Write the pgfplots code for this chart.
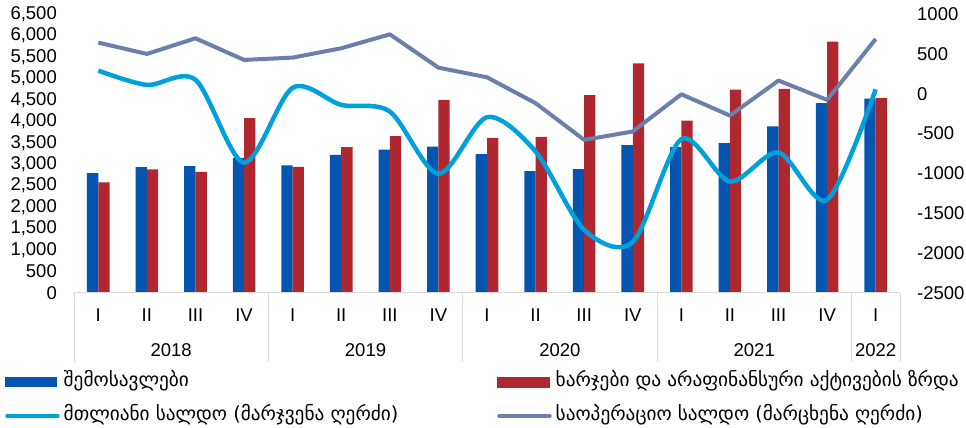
\documentclass[border=0pt]{standalone}
\usepackage{fontspec}
\setmainfont{Liberation Sans}
\newfontfamily\geo{DejaVu Sans}
\usepackage{pgfplots}
\pgfplotsset{compat=1.18}
\definecolor{barblue}{RGB}{4,85,175}
\definecolor{barred}{RGB}{175,39,47}
\definecolor{lineblue}{RGB}{0,160,220}
\definecolor{linegray}{RGB}{107,127,170}
\definecolor{sepgray}{RGB}{217,217,217}
\begin{document}
\begin{tikzpicture}
\useasboundingbox (0,0) rectangle (966pt,428pt);
\begin{axis}[
  at={(74pt,135pt)}, anchor=south west,
  scale only axis, width=826pt, height=279pt,
  xmin=-0.5, xmax=16.5, ymin=0, ymax=6500,
  clip=false,
  xtick={0,...,16},
  xticklabels={I,II,III,IV,I,II,III,IV,I,II,III,IV,I,II,III,IV,I},
  ytick={0,500,...,6500},
  axis line style={draw=none}, tick style={draw=none},
  ticklabel style={font=\fontsize{18.5}{22}\selectfont},
  x tick label style={anchor=center, inner sep=0pt, yshift=-22pt},
  y tick label style={anchor=east, inner sep=0pt, xshift=-17pt},
  /pgf/number format/.cd, 1000 sep={,}, assume math mode=true, /pgfplots/.cd,
  legend cell align=left,
  legend style={at={(axis description cs:-0.0835,-0.3800)}, anchor=west,
    draw=none, fill=none, inner sep=0pt, row sep=15pt, column sep=4pt,
    font=\geo\fontsize{19.3}{23}\selectfont,
    nodes={inner sep=0pt, text height=14pt, text depth=5pt}},
]
\addplot[ybar, bar width=11.3pt, bar shift=-5.65pt, fill=barblue, draw=none,
  legend image code/.code={\fill[barblue] (0pt,-5pt) rectangle (52pt,5pt);}]
  table[row sep=\\] {x y\\
0 2793\\ 1 2932\\ 2 2955\\ 3 3150\\ 4 2971\\ 5 3219\\ 6 3343\\ 7 3413\\
8 3235\\ 9 2839\\ 10 2886\\ 11 3444\\ 12 3401\\ 13 3491\\ 14 3879\\ 15 4421\\ 16 4530\\};
\addlegendentry{შემოსავლები}
\addplot[ybar, bar width=11.3pt, bar shift=5.65pt, fill=barred, draw=none, forget plot]
  table[row sep=\\] {x y\\
0 2575\\ 1 2878\\ 2 2824\\ 3 4073\\ 4 2940\\ 5 3398\\ 6 3654\\ 7 4499\\
8 3615\\ 9 3638\\ 10 4608\\ 11 5352\\ 12 4018\\ 13 4740\\ 14 4755\\ 15 5857\\ 16 4546\\};
\addlegendimage{legend image code/.code={\draw[lineblue, line width=4.5pt, line cap=round] (2pt,0pt) -- (52pt,0pt);}}
\addlegendentry{მთლიანი სალდო (მარჯვენა ღერძი)}
\draw[sepgray, line width=1pt] (axis cs:-0.5,0) -- (axis cs:16.5,0);
\draw[sepgray, line width=1pt] (axis cs:-0.5,0) -- ++(0pt,-69pt);
\draw[sepgray, line width=1pt] (axis cs:3.5,0) -- ++(0pt,-69pt);
\draw[sepgray, line width=1pt] (axis cs:7.5,0) -- ++(0pt,-69pt);
\draw[sepgray, line width=1pt] (axis cs:11.5,0) -- ++(0pt,-69pt);
\draw[sepgray, line width=1pt] (axis cs:15.5,0) -- ++(0pt,-69pt);
\draw[sepgray, line width=1pt] (axis cs:16.5,0) -- ++(0pt,-69pt);
\path[font=\fontsize{18.5}{22}\selectfont]
  (axis cs:1.5,0) ++(0pt,-57pt) node {2018}
  (axis cs:5.5,0) ++(0pt,-57pt) node {2019}
  (axis cs:9.5,0) ++(0pt,-57pt) node {2020}
  (axis cs:13.5,0) ++(0pt,-57pt) node {2021}
  (axis cs:16,0) ++(0pt,-57pt) node {2022};
\end{axis}
\begin{axis}[
  at={(74pt,135pt)}, anchor=south west,
  scale only axis, width=826pt, height=279pt,
  xmin=-0.5, xmax=16.5, ymin=-2500, ymax=1000,
  hide x axis,
  ytick={-2500,-2000,...,1000},
  yticklabel pos=right,
  axis line style={draw=none}, tick style={draw=none},
  ticklabel style={font=\fontsize{18.5}{22}\selectfont},
  y tick label style={anchor=west, inner sep=0pt, xshift=17pt},
  /pgf/number format/.cd, 1000 sep={}, assume math mode=true, /pgfplots/.cd,
  legend cell align=left,
  legend style={at={(axis description cs:0.5121,-0.3800)}, anchor=west,
    draw=none, fill=none, inner sep=0pt, row sep=15pt, column sep=4pt,
    font=\geo\fontsize{19.3}{23}\selectfont,
    nodes={inner sep=0pt, text height=14pt, text depth=5pt}},
]
\addlegendimage{legend image code/.code={\fill[barred] (0pt,-5pt) rectangle (52pt,5pt);}}
\addlegendentry{ხარჯები და არაფინანსური აქტივების ზრდა}
\addplot[lineblue, line width=4.5pt, smooth, forget plot]
  table[row sep=\\] {x y\\
0 290\\ 1 110\\ 2 175\\ 3 -865\\ 4 75\\ 5 -140\\ 6 -224\\ 7 -1005\\
8 -295\\ 9 -725\\ 10 -1707\\ 11 -1860\\ 12 -571\\ 13 -1101\\ 14 -738\\ 15 -1331\\ 16 56\\};
\addplot[linegray, line width=4pt, line join=round,
  legend image code/.code={\draw[linegray, line width=4.5pt, line cap=round] (2pt,0pt) -- (52pt,0pt);}]
  table[row sep=\\] {x y\\
0 641\\ 1 499\\ 2 695\\ 3 424\\ 4 453\\ 5 570\\ 6 745\\ 7 327\\
8 206\\ 9 -119\\ 10 -579\\ 11 -474\\ 12 -7\\ 13 -274\\ 14 165\\ 15 -78\\ 16 687\\};
\addlegendentry{საოპერაციო სალდო (მარცხენა ღერძი)}
\end{axis}
\end{tikzpicture}
\end{document}
